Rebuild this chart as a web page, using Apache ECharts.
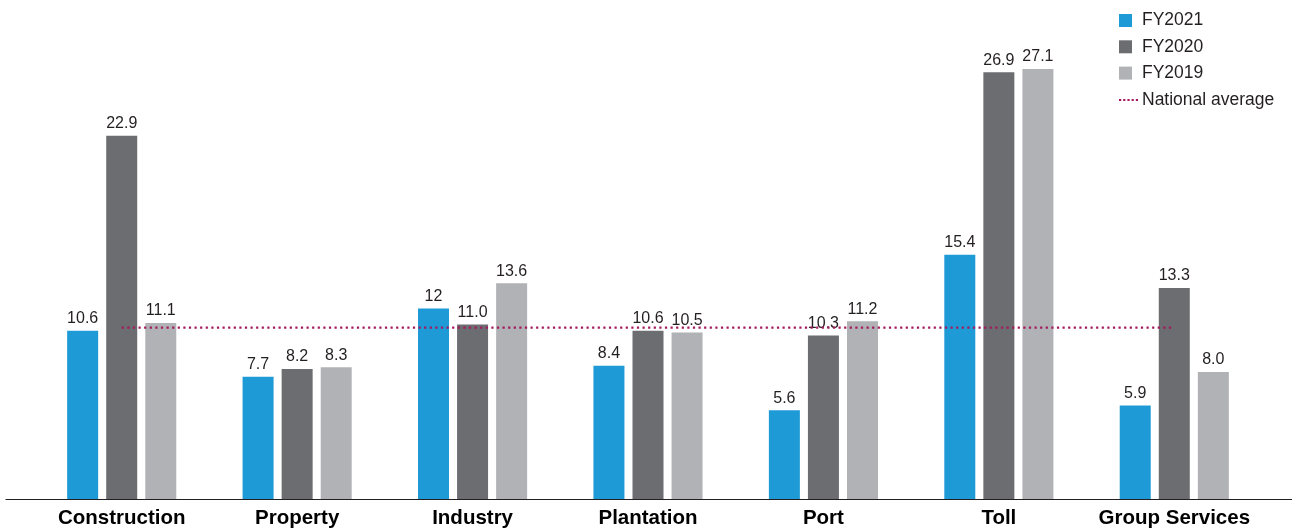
<!DOCTYPE html>
<html>
<head>
<meta charset="utf-8">
<script src="https://cdn.jsdelivr.net/npm/echarts@6/dist/echarts.min.js"></script>
<style>
html,body{margin:0;padding:0;background:#fff;}
#chart{width:1292px;height:530px;}
</style>
</head>
<body>
<div id="chart"></div>
<script>
const categories = ['Construction', 'Property', 'Industry', 'Plantation', 'Port', 'Toll', 'Group Services'];
const fy2021 = [10.6, 7.7, 12, 8.4, 5.6, 15.4, 5.9];
const fy2020 = [22.9, 8.2, 11.0, 10.6, 10.3, 26.9, 13.3];
const fy2019 = [11.1, 8.3, 13.6, 10.5, 11.2, 27.1, 8.0];
const nationalAverage = [10.8, 10.8, 10.8, 10.8, 10.8, 10.8, 10.8];
const fy2020Labels = ['22.9', '8.2', '11.0', '10.6', '10.3', '26.9', '13.3'];
const fy2019Labels = ['11.1', '8.3', '13.6', '10.5', '11.2', '27.1', '8.0'];

const FONT = '"Liberation Sans", Arial, Helvetica, sans-serif';
const labelBase = {
  show: true, position: 'top', distance: 4,
  color: '#231f20', fontSize: 16, fontFamily: FONT
};
const dottedIcon = 'path://M0,0h2.2v2.2h-2.2z M4.2,0h2.2v2.2h-2.2z M8.4,0h2.2v2.2h-2.2z M12.6,0h2.2v2.2h-2.2z M16.8,0h2.2v2.2h-2.2z';
const chart = echarts.init(document.getElementById('chart'), null, {renderer: 'canvas'});
chart.setOption({
  animation: false,
  backgroundColor: '#ffffff',
  grid: [
    {left: 34, right: 30, top: 23, bottom: 31, containLabel: false},
    {left: 6, right: 0, top: 23, bottom: 31, containLabel: false}
  ],
  legend: [
    {
      data: ['FY2021', 'FY2020', 'FY2019'],
      orient: 'vertical', left: 1119, top: 11.5, padding: 0,
      itemWidth: 13, itemHeight: 13, itemGap: 8.3,
      icon: 'rect',
      textStyle: {fontSize: 17.5, fontFamily: FONT, color: '#231f20', padding: [0, 0, 0, 5]}
    },
    {
      data: [{name: 'National average', icon: dottedIcon, itemStyle: {color: '#a3195b'}}],
      orient: 'vertical', left: 1119, top: 91, padding: 0,
      itemWidth: 19, itemHeight: 2.2,
      textStyle: {fontSize: 17.5, fontFamily: FONT, color: '#231f20', padding: [0, 0, 0, -1]}
    }
  ],
  xAxis: [
    {
      type: 'category', data: categories, gridIndex: 0,
      axisLine: {show: false},
      axisTick: {show: false},
      axisLabel: {color: '#000', fontSize: 20.5, fontWeight: 'bold', fontFamily: FONT, margin: 9, interval: 0}
    },
    {
      type: 'value', gridIndex: 1, min: 0, max: 1,
      axisLine: {show: true, lineStyle: {color: '#231f20', width: 1.2}},
      axisTick: {show: false}, axisLabel: {show: false}, splitLine: {show: false}
    }
  ],
  yAxis: [
    {type: 'value', gridIndex: 0, min: 0, max: 30, show: false, splitLine: {show: false}},
    {type: 'value', gridIndex: 1, min: 0, max: 1, show: false, splitLine: {show: false}}
  ],
  series: [
    {
      name: 'FY2021', type: 'bar', data: fy2021, barWidth: 31, barGap: '26%',
      itemStyle: {color: '#1e9ad6'},
      label: Object.assign({}, labelBase)
    },
    {
      name: 'FY2020', type: 'bar', data: fy2020, barWidth: 31, barGap: '26%',
      itemStyle: {color: '#6c6d70'},
      label: Object.assign({}, labelBase, {formatter: p => fy2020Labels[p.dataIndex]})
    },
    {
      name: 'FY2019', type: 'bar', data: fy2019, barWidth: 31, barGap: '26%',
      itemStyle: {color: '#b0b2b5'},
      label: Object.assign({}, labelBase, {formatter: p => fy2019Labels[p.dataIndex]})
    },
    {
      name: 'National average', type: 'line', data: nationalAverage,
      symbol: 'none', z: 5,
      itemStyle: {color: '#a3195b'},
      lineStyle: {color: '#a3195b', width: 2.2, type: [2.2, 3.4]}
    }
  ]
});
</script>
</body>
</html>
